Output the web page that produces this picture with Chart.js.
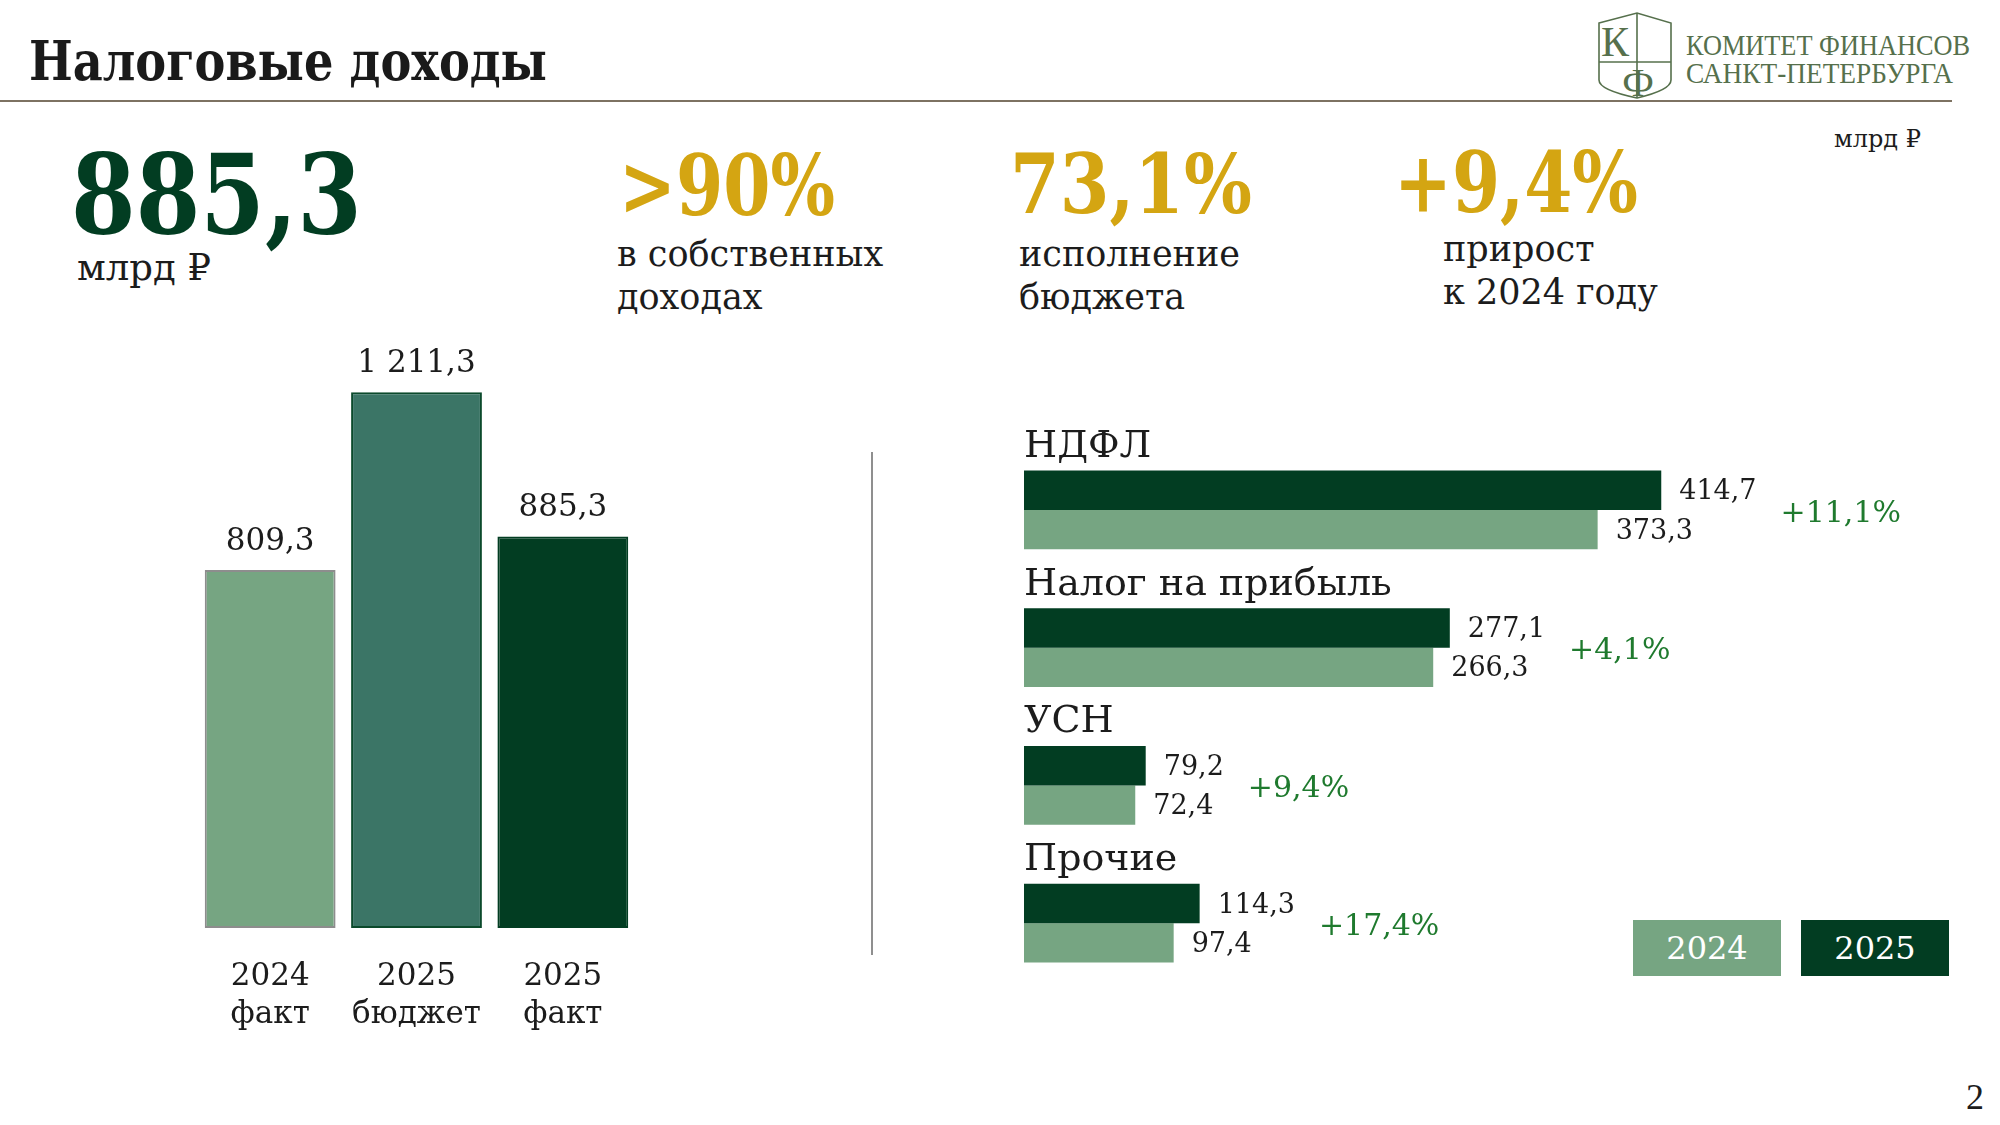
<!DOCTYPE html>
<html lang="ru">
<head>
<meta charset="utf-8">
<title>Налоговые доходы</title>
<script src="https://cdn.jsdelivr.net/npm/chart.js@4"></script>
<style>
  html, body { margin: 0; padding: 0; background: #fff; }
  body { width: 2000px; height: 1125px; position: relative; overflow: hidden; font-family: "DejaVu Serif", serif; color: #1c1c1c; }
  .t { position: absolute; white-space: nowrap; line-height: 1; transform-origin: left top; }
  .kpi { font-size: 85px; color: #d4a512; font-weight: bold; }
  .sub { font-size: 35px; line-height: 43px; }
  canvas { position: absolute; }
  .legend-box { position: absolute; top: 920px; width: 148px; height: 56px; color: #fff; font-size: 32px; display: flex; align-items: center; justify-content: center; }
</style>
</head>
<body>

<div class="t" style="left:29px;top:33px;font-size:55px;font-weight:bold;color:#1a1a1a" data-w="518">Налоговые доходы</div>
<div style="position:absolute;left:0;top:100px;width:1952px;height:2px;background:#7d7262"></div>

<!-- логотип -->
<svg style="position:absolute;left:1597px;top:10px" width="78" height="92" viewBox="0 0 78 92">
  <g fill="none" stroke="#56704c" stroke-width="1.6">
    <path d="M2,13 L40,3 L74,13 L74,70 Q74,80 40,88 Q2,80 2,70 Z"/>
    <line x1="40" y1="3" x2="40" y2="88"/>
    <line x1="2" y1="52" x2="74" y2="52"/>
  </g>
  <text x="4" y="46" font-family="Liberation Serif" font-size="42" fill="#56704c">К</text>
  <text x="41" y="86" font-family="Liberation Serif" font-size="40" fill="#56704c" text-anchor="middle">Ф</text>
</svg>
<div class="t" style="left:1686px;top:31px;font-size:29px;font-family:'Liberation Serif';color:#56704c" data-w="284">КОМИТЕТ ФИНАНСОВ</div>
<div class="t" style="left:1686px;top:59px;font-size:29px;font-family:'Liberation Serif';color:#56704c" data-w="267">САНКТ-ПЕТЕРБУРГА</div>

<!-- ключевые показатели -->
<div class="t" style="left:71px;top:139px;font-size:111px;font-weight:bold;color:#023d22" data-w="291">885,3</div>
<div class="t" style="left:77px;top:249px;font-size:37px">млрд ₽</div>

<div class="t kpi" style="left:619px;top:143px" data-w="216">&gt;90%</div>
<div class="t sub" style="left:617px;top:233px">в собственных<br>доходах</div>

<div class="t kpi" style="left:1010px;top:143px;font-size:82px" data-w="242">73,1%</div>
<div class="t sub" style="left:1019px;top:233px">исполнение<br>бюджета</div>

<div class="t kpi" style="left:1394px;top:140px" data-w="244">+9,4%</div>
<div class="t sub" style="left:1443px;top:228px">прирост<br>к 2024 году</div>

<div class="t" style="left:1834px;top:127px;font-size:24px">млрд ₽</div>

<canvas id="totals" width="550" height="760" style="left:150px;top:300px"></canvas>
<div style="position:absolute;left:871px;top:452px;width:2px;height:503px;background:#8f8f8f"></div>
<canvas id="taxes" width="1000" height="640" style="left:1000px;top:380px"></canvas>
<div id="legend"></div>

<div class="t" style="left:1966px;top:1079px;font-size:36px;font-family:'Liberation Serif'">2</div>

<script>
// налоговые доходы всего, млрд руб.
const totalLabels = [['2024', 'факт'], ['2025', 'бюджет'], ['2025', 'факт']];
const totalValues = [809.3, 1211.3, 885.3];

// структура по видам налогов
const taxCategories = ['НДФЛ', 'Налог на прибыль', 'УСН', 'Прочие'];
const tax2025 = [414.7, 277.1, 79.2, 114.3];
const tax2024 = [373.3, 266.3, 72.4, 97.4];
const taxGrowth = ['+11,1%', '+4,1%', '+9,4%', '+17,4%'];

const DARK = '#023d22';
const LIGHT = '#76a582';
const MID = '#3b7566';
const TEXT = '#1c1c1c';
const FONT = '"DejaVu Serif", serif';

const fmt = v => {
    const [i, d] = v.toFixed(1).split('.');
    return i.replace(/\B(?=(\d{3})+(?!\d))/g, ' ') + ',' + d;
};

// подписи над столбцами и под ними
const totalsText = {
    id: 'totalsText',
    afterDatasetsDraw(chart) {
        const ctx = chart.ctx;
        ctx.save();
        ctx.fillStyle = TEXT;
        ctx.textAlign = 'center';
        ctx.textBaseline = 'middle';
        ctx.font = '31px ' + FONT;
        chart.getDatasetMeta(0).data.forEach((bar, i) => {
            ctx.fillText(fmt(totalValues[i]), bar.x, bar.y - 28);
            const lines = totalLabels[i];
            ctx.fillText(lines[0], bar.x, bar.base + 49);
            ctx.fillText(lines[1], bar.x, bar.base + 87);
        });
        ctx.restore();
    }
};

new Chart(document.getElementById('totals'), {
    type: 'bar',
    data: {
        labels: totalLabels,
        datasets: [{
            data: totalValues,
            backgroundColor: [LIGHT, MID, DARK],
            borderColor: ['#8d8d8d', '#0b4a2c', DARK],
            borderWidth: 2,
            borderSkipped: false,
            barPercentage: 0.894,
            categoryPercentage: 1
        }]
    },
    options: {
        responsive: false,
        animation: false,
        layout: { padding: { left: 47, right: 64, top: 53, bottom: 132 } },
        plugins: { legend: { display: false }, tooltip: { enabled: false } },
        scales: {
            x: { display: false },
            y: { display: false, min: 0, max: 1300 }
        }
    },
    plugins: [totalsText]
});

// названия налогов, значения и прирост
const taxText = {
    id: 'taxText',
    afterDatasetsDraw(chart) {
        const ctx = chart.ctx;
        const yScale = chart.scales.y;
        const m25 = chart.getDatasetMeta(0).data;
        const m24 = chart.getDatasetMeta(1).data;
        ctx.save();
        ctx.textAlign = 'left';
        ctx.textBaseline = 'middle';
        taxCategories.forEach((name, i) => {
            const cy = yScale.getPixelForValue(i);
            ctx.fillStyle = TEXT;
            ctx.font = '38px ' + FONT;
            ctx.fillText(name, chart.chartArea.left, cy - 63);

            ctx.font = '27px ' + FONT;
            let end = 0;
            [[m25[i], tax2025[i]], [m24[i], tax2024[i]]].forEach(([bar, v]) => {
                const s = fmt(v);
                const x = bar.x + 18;
                ctx.fillText(s, x, bar.y + 2);
                end = Math.max(end, x + ctx.measureText(s).width);
            });

            ctx.fillStyle = '#1f7a2e';
            ctx.font = '30px ' + FONT;
            ctx.fillText(taxGrowth[i], end + 24, cy + 4);
        });
        ctx.restore();
    }
};

const taxChart = new Chart(document.getElementById('taxes'), {
    type: 'bar',
    data: {
        labels: taxCategories,
        datasets: [
            { label: '2025', data: tax2025, backgroundColor: DARK },
            { label: '2024', data: tax2024, backgroundColor: LIGHT }
        ]
    },
    options: {
        indexAxis: 'y',
        responsive: false,
        animation: false,
        barPercentage: 1,
        categoryPercentage: 0.57,
        layout: { padding: { left: 24, right: 54, top: 61, bottom: 28 } },
        plugins: { legend: { display: false }, tooltip: { enabled: false } },
        scales: {
            x: { display: false, min: 0, max: 600 },
            y: { display: false }
        }
    },
    plugins: [taxText]
});

// легенда плашками
const legend = document.getElementById('legend');
taxChart.data.datasets.slice().reverse().forEach((ds, i) => {
    const box = document.createElement('div');
    box.className = 'legend-box';
    box.style.left = (1633 + i * 168) + 'px';
    box.style.background = ds.backgroundColor;
    box.textContent = ds.label;
    legend.appendChild(box);
});

// подогнать ширину узких заголовков
document.fonts.ready.then(() => {
    document.querySelectorAll('[data-w]').forEach(el => {
        const w = el.getBoundingClientRect().width;
        el.style.transform = 'scaleX(' + (el.dataset.w / w) + ')';
    });
});
</script>
</body>
</html>
